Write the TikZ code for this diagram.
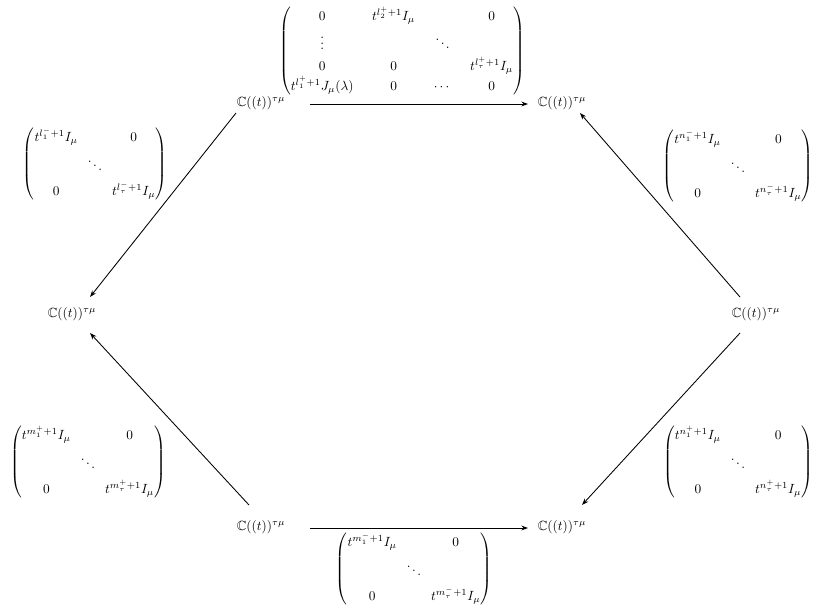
\documentclass[tikz,border=0pt]{standalone}
\usepackage{amsmath,amssymb}
\usetikzlibrary{arrows.meta}
\newcommand{\diagmat}[2]{\setlength{\arraycolsep}{3.5pt}\begin{pmatrix} #1 & & 0\\[4pt] & \ddots & \\[4pt] 0 & & #2\end{pmatrix}}
\begin{document}
\begin{tikzpicture}[x=0.75pt,y=-0.75pt,
  every node/.style={inner sep=0pt},
  arr/.style={-{Stealth[length=5pt,width=3.6pt]}, line width=0.65pt}]
\useasboundingbox (0,0) rectangle (814,607);
% space nodes
\node (TL) at (261,103) {$\mathbb{C}((t))^{\tau\mu}$};
\node (TR) at (562,103) {$\mathbb{C}((t))^{\tau\mu}$};
\node (ML) at (72,314) {$\mathbb{C}((t))^{\tau\mu}$};
\node (MR) at (756,314) {$\mathbb{C}((t))^{\tau\mu}$};
\node (BL) at (261,527) {$\mathbb{C}((t))^{\tau\mu}$};
\node (BR) at (562,527) {$\mathbb{C}((t))^{\tau\mu}$};
% matrix labels
\node (mT) at (402,51) {$\setlength{\arraycolsep}{7pt}\begin{pmatrix} 0 & t^{l_2^++1}I_\mu & & 0\\[3pt] \vdots & & \ddots & \\[2pt] 0 & 0 & & t^{l_\tau^++1}I_\mu \\[1pt] t^{l_1^++1}J_\mu(\lambda) & 0 & \cdots & 0\end{pmatrix}$};
\node (mLT) at (95,164) {$\diagmat{t^{l_1^-+1}I_\mu}{t^{l_\tau^-+1}I_\mu}$};
\node (mRT) at (738,166) {$\diagmat{t^{n_1^-+1}I_\mu}{t^{n_\tau^-+1}I_\mu}$};
\node (mLB) at (88,462) {$\diagmat{t^{m_1^++1}I_\mu}{t^{m_\tau^++1}I_\mu}$};
\node (mRB) at (738,462) {$\diagmat{t^{n_1^++1}I_\mu}{t^{n_\tau^++1}I_\mu}$};
\node (mB) at (414,569) {$\diagmat{t^{m_1^-+1}I_\mu}{t^{m_\tau^-+1}I_\mu}$};
% arrows
\draw[arr] ([shift={(49,1)}]TL.center) -- ([shift={(-34,1)}]TR.center);
\draw[arr] ([shift={(-25,10)}]TL.center) -- ([shift={(18,-17)}]ML.center);
\draw[arr] ([shift={(-12,-22)}]BL.center) -- ([shift={(18,19)}]ML.center);
\draw[arr] ([shift={(49,1)}]BL.center) -- ([shift={(-34,1)}]BR.center);
\draw[arr] ([shift={(-16,-17)}]MR.center) -- ([shift={(18,10)}]TR.center);
\draw[arr] ([shift={(-16,19)}]MR.center) -- ([shift={(20,-22)}]BR.center);
\end{tikzpicture}
\end{document}
